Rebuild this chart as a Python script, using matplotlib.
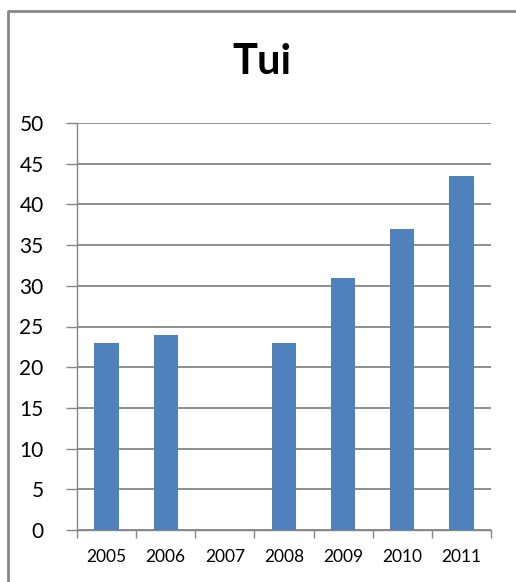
import numpy as np
import matplotlib
matplotlib.use("Agg")
import matplotlib.pyplot as plt
from matplotlib.lines import Line2D

years = ["2005", "2006", "2007", "2008", "2009", "2010", "2011"]
counts = [23, 24, np.nan, 23, 31, 37, 43.5]
y_ticks = [0, 5, 10, 15, 20, 25, 30, 35, 40, 45, 50]

bar_color = "#4F81BD"
grid_color = "#868686"

plt.rcParams["font.family"] = ["Lato", "DejaVu Sans"]

W, H = 516, 582
fig = plt.figure(figsize=(W / 100, H / 100), dpi=100)
ax = fig.add_axes([77 / W, 1 - 530 / H, (491 - 77) / W, (530 - 123) / H])

pos = np.arange(len(years)) + 0.5
ax.bar(pos, counts, width=0.41, color=bar_color, zorder=3)

ax.set_xlim(0, len(years))
ax.set_ylim(0, 50)
ax.set_yticks(y_ticks)
ax.set_yticklabels([str(v) for v in y_ticks], fontsize=15)

# category boundaries carry the ticks, labels sit at the centres
ax.set_xticks(np.arange(len(years) + 1))
ax.set_xticklabels([])
ax.set_xticks(pos, minor=True)
ax.set_xticklabels(years, minor=True, fontsize=12.5)
ax.tick_params(axis="x", which="major", length=6, width=1, color=grid_color)
ax.tick_params(axis="x", which="minor", length=0, pad=14)
ax.tick_params(axis="y", length=8, width=1, color=grid_color, pad=16)

ax.grid(axis="y", color=grid_color, linewidth=1.3, zorder=0)
for side in ("top", "right"):
    ax.spines[side].set_visible(False)
for side in ("left", "bottom"):
    ax.spines[side].set_color(grid_color)
    ax.spines[side].set_linewidth(1)

fig.text(262 / W, 1 - 62 / H, "Tui", ha="center", va="center",
         fontsize=30, fontweight="bold")

# chart frame: left and top edges
fx = 8 / W
fy = 1 - 11 / H
fig.add_artist(Line2D([fx, fx, 1], [0, fy, fy], transform=fig.transFigure,
                      color="#878787", linewidth=2))

fig.savefig("out.png", dpi=100)
